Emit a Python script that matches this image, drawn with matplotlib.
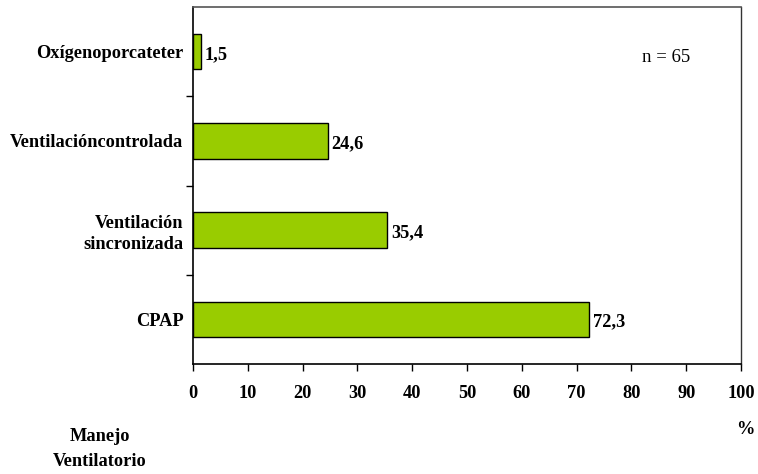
import matplotlib
matplotlib.use("Agg")
import matplotlib.pyplot as plt
from matplotlib.ticker import FixedLocator

categories = ["CPAP", "Ventilación\nsincronizada", "Ventilacióncontrolada", "Oxígenoporcateter"]
values = [72.3, 35.4, 24.6, 1.5]
value_labels = ["72,3", "35,4", "24,6", "1,5"]
xticks = [0, 10, 20, 30, 40, 50, 60, 70, 80, 90, 100]

plt.rcParams['font.family'] = ['Liberation Serif', 'DejaVu Serif']
FS = 13.2

fig = plt.figure(figsize=(7.58, 4.74), dpi=100)
W, H = 758, 474
ax = fig.add_axes([193 / W, 1 - 364 / H, (741 - 193) / W, (364 - 7) / H])

ypos = list(range(len(categories)))
ax.barh(ypos, values, height=0.4, color="#99CC00", edgecolor="black", linewidth=1.0)
ax.set_xlim(0, 100)
ax.set_ylim(-0.5, len(categories) - 0.5)

for y, v, lab in zip(ypos, values, value_labels):
    ax.text(v + 0.7, y - 0.03, lab, va="center", ha="left", fontsize=FS, fontweight="bold")

ax.set_xticks(xticks)
ax.set_xticklabels([str(t) for t in xticks], fontsize=FS, fontweight="bold")
ax.tick_params(axis="x", direction="out", length=5, width=1, pad=10)

ax.set_yticks(ypos)
ax.set_yticklabels(categories, fontsize=FS, fontweight="bold", linespacing=1.3)
ax.yaxis.set_minor_locator(FixedLocator([0.5, 1.5, 2.5]))
ax.tick_params(axis="y", which="major", length=0, pad=7)
ax.tick_params(axis="y", which="minor", direction="out", length=5, width=1)

for s in ["left", "bottom"]:
    ax.spines[s].set_color("black")
    ax.spines[s].set_linewidth(1.2)
ax.spines["top"].set_color("#555555")
ax.spines["top"].set_linewidth(1.2)
ax.spines["right"].set_color("#333333")
ax.spines["right"].set_linewidth(1.0)

fig.text(666 / W, 1 - 58 / H, "n = 65", ha="center", va="center", fontsize=13.5)
fig.text(745 / W, 1 - 429 / H, "%", ha="center", va="center", fontsize=FS, fontweight="bold")
fig.text(100 / W, 1 - 449 / H, "Manejo\nVentilatorio", ha="center", va="center",
         fontsize=FS, fontweight="bold", linespacing=1.55)

fig.savefig("out.png", dpi=100)
